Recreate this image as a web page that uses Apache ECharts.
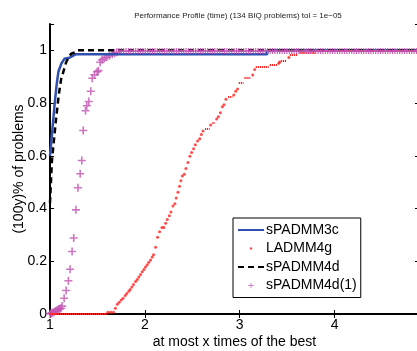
<!DOCTYPE html>
<html>
<head>
<meta charset="utf-8">
<script src="https://cdn.jsdelivr.net/npm/echarts@6/dist/echarts.min.js"></script>
<style>
  html, body { margin: 0; padding: 0; background: #fff; }
  #chart { width: 417px; height: 351px; }
</style>
</head>
<body>
<div id="chart"></div>
<script>
// ---- data ----
const titleText = "Performance Profile (time) (134 BIQ problems) tol = 1e\u221205";
const seriesNames = ["sPADMM3c", "LADMM4g", "sPADMM4d", "sPADMM4d(1)"];
const xTicks = [1, 2, 3, 4];
const yTicks = [0, 0.2, 0.4, 0.6, 0.8, 1];

// sPADMM3c (solid blue)
const spadmm3c = [
  [1.0, 0.60], [1.01, 0.64], [1.025, 0.70], [1.05, 0.80], [1.07, 0.87],
  [1.089, 0.92], [1.12, 0.95], [1.152, 0.968], [1.205, 0.972], [1.27, 0.985],
  [3.29, 0.985], [3.29, 1.0], [4.89, 1.0]
];

// sPADMM4d (black dashed)
const spadmm4d = [
  [1.0, 0.42], [1.01, 0.50], [1.02, 0.58], [1.036, 0.64], [1.064, 0.74],
  [1.092, 0.83], [1.117, 0.89], [1.15, 0.93], [1.17, 0.955], [1.2, 0.975],
  [1.223, 0.987], [1.26, 0.992], [1.29, 1.0], [4.89, 1.0]
];

// LADMM4g (red dots)
const ladmm4g = [
  [1.61, 0.007], [1.64, 0.007], [1.67, 0.007], [1.69, 0.022], [1.71, 0.037],
  [1.73, 0.045], [1.751, 0.053], [1.77, 0.06], [1.793, 0.070], [1.81, 0.078],
  [1.831, 0.086], [1.845, 0.093], [1.863, 0.102], [1.88, 0.112], [1.902, 0.123],
  [1.92, 0.131], [1.937, 0.140], [1.955, 0.15], [1.972, 0.160], [1.99, 0.169],
  [2.007, 0.178], [2.025, 0.187], [2.042, 0.196], [2.06, 0.205], [2.078, 0.216],
  [2.092, 0.225], [2.113, 0.253], [2.134, 0.291], [2.155, 0.312], [2.18, 0.328],
  [2.2, 0.328], [2.219, 0.344], [2.236, 0.358], [2.258, 0.373], [2.275, 0.387],
  [2.296, 0.410], [2.317, 0.418], [2.33, 0.44], [2.349, 0.462], [2.366, 0.485],
  [2.38, 0.505], [2.395, 0.523], [2.416, 0.530], [2.433, 0.552], [2.454, 0.575],
  [2.475, 0.598], [2.493, 0.613], [2.514, 0.627], [2.532, 0.642], [2.556, 0.656],
  [2.578, 0.665], [2.595, 0.681], [2.613, 0.694], [2.694, 0.717], [2.757, 0.740],
  [2.775, 0.748], [2.796, 0.763], [2.817, 0.786], [2.834, 0.794], [2.855, 0.815],
  [2.937, 0.831], [2.958, 0.845], [2.977, 0.853], [3.137, 0.907], [3.158, 0.927],
  [3.412, 0.951], [3.42, 0.956], [3.518, 0.973]
];
// flat stretches of densely packed red dots: [from, to, level]
const ladmm4gRuns = [
  [1.0, 1.6, 0.0], [2.634, 2.683, 0.703], [2.712, 2.739, 0.725], [2.877, 2.923, 0.823],
  [2.99, 3.04, 0.876], [3.05, 3.116, 0.898], [3.169, 3.306, 0.936], [3.317, 3.402, 0.945],
  [3.433, 3.497, 0.96], [3.528, 3.613, 0.983], [3.63, 3.8, 0.99], [3.8, 4.89, 1.0]
];

// sPADMM4d(1) (magenta pluses)
const spadmm4d1 = [
  [1.0, 0.0], [1.01, 0.003], [1.02, 0.004], [1.03, 0.006], [1.045, 0.009],
  [1.06, 0.011], [1.075, 0.015], [1.09, 0.017], [1.105, 0.020], [1.115, 0.022],
  [1.128, 0.030], [1.149, 0.060], [1.17, 0.089], [1.194, 0.126], [1.212, 0.170],
  [1.233, 0.237], [1.250, 0.288], [1.273, 0.395], [1.295, 0.479], [1.318, 0.532],
  [1.335, 0.582], [1.35, 0.696], [1.374, 0.771], [1.388, 0.790], [1.409, 0.806],
  [1.43, 0.845], [1.445, 0.894], [1.469, 0.907], [1.497, 0.919], [1.511, 0.923],
  [1.529, 0.955], [1.55, 0.964], [1.574, 0.970], [1.599, 0.974], [1.627, 0.980],
  [1.656, 0.985], [1.68, 0.989], [1.704, 0.993]
];
const spadmm4d1Runs = [[1.72, 4.89, 1.0]];

// ---- styling ----
const FONT = "Liberation Sans";
const BLUE = "#3050b0";
const RED = "#ff2020";
const MAGENTA = "#c254b2";
const PLUS = "path://M3.2,0H4.8V3.2H8V4.8H4.8V8H3.2V4.8H0V3.2H3.2Z";
const PLUS_ICON = "path://M-2,-2M10,10M3.4,0H4.6V3.4H8V4.6H4.6V8H3.4V4.6H0V3.4H3.4Z";
const DOT_ICON = "path://M0,0M10,10M3.5,5a1.5,1.5,0,1,0,3,0a1.5,1.5,0,1,0,-3,0Z";

function runSegments(runs, lineStyle) {
  return runs.map(([x0, x1, y]) => [
    { coord: [x0, y], lineStyle },
    { coord: [x1, y] }
  ]);
}

const chart = echarts.init(document.getElementById("chart"));

const axisCommon = {
  type: "value",
  axisLine: { show: true, lineStyle: { color: "#000", width: 2 } },
  axisTick: { show: true, inside: true, length: 4, lineStyle: { color: "#000", width: 1 } },
  splitLine: { show: false },
  axisLabel: { fontFamily: FONT, fontSize: 14, color: "#000" }
};

chart.setOption({
  animation: false,
  backgroundColor: "#fff",
  title: {
    text: titleText,
    left: 233,
    top: 7,
    textAlign: "center",
    textStyle: { fontFamily: FONT, fontSize: 8, fontWeight: "normal", color: "#222" }
  },
  grid: { left: 50, top: 24, right: -2, bottom: 37, outerBoundsMode: "none" },
  legend: {
    orient: "vertical",
    left: 233,
    top: 218,
    backgroundColor: "#fff",
    borderColor: "#000",
    borderWidth: 1,
    borderRadius: 0,
    padding: [5, 4, 5, 4],
    itemGap: 4.5,
    itemWidth: 26,
    itemHeight: 8,
    textStyle: { fontFamily: FONT, fontSize: 14, color: "#000", padding: [0, 0, 0, -3] },
    data: [
      { name: seriesNames[0], itemStyle: { opacity: 0 } },
      { name: seriesNames[1], icon: DOT_ICON },
      { name: seriesNames[2], itemStyle: { opacity: 0 } },
      { name: seriesNames[3], icon: PLUS_ICON }
    ]
  },
  xAxis: [
    {
      ...axisCommon,
      position: "bottom",
      min: 1,
      max: 4.89,
      interval: 1,
      name: "at most x times of the best",
      nameLocation: "middle",
      nameGap: 21,
      nameMoveOverlap: false,
      nameTextStyle: { fontFamily: FONT, fontSize: 14, color: "#000" },
      axisLabel: {
        ...axisCommon.axisLabel,
        margin: 4,
        formatter: (v) => (xTicks.includes(v) ? String(v) : "")
      }
    },
    {
      ...axisCommon,
      position: "top",
      min: 1,
      max: 4.89,
      interval: 1,
      axisLabel: { show: false }
    }
  ],
  yAxis: [
    {
      ...axisCommon,
      position: "left",
      min: 0,
      max: 1.1,
      interval: 0.2,
      name: "(100y)% of problems",
      nameLocation: "middle",
      nameGap: 24,
      nameMoveOverlap: false,
      nameTextStyle: { fontFamily: FONT, fontSize: 14, color: "#000" },
      axisLabel: {
        ...axisCommon.axisLabel,
        margin: 3,
        formatter: (v) => {
          const t = yTicks.find((k) => Math.abs(k - v) < 1e-6);
          return t === undefined ? "" : String(t);
        }
      }
    },
    {
      ...axisCommon,
      position: "right",
      min: 0,
      max: 1.1,
      interval: 0.2,
      axisLine: { show: false },
      axisLabel: { show: false }
    }
  ],
  series: [
    {
      name: seriesNames[0],
      type: "line",
      data: spadmm3c,
      symbol: "none",
      color: BLUE,
      lineStyle: { color: BLUE, width: 2.5 }
    },
    {
      name: seriesNames[1],
      type: "scatter",
      data: ladmm4g,
      symbol: "circle",
      symbolSize: 3,
      itemStyle: { color: RED },
      markLine: {
        silent: true,
        symbol: "none",
        label: { show: false },
        data: runSegments(ladmm4gRuns, { color: RED, width: 2, type: [1.2, 0.8] })
      }
    },
    {
      name: seriesNames[2],
      type: "line",
      data: spadmm4d,
      symbol: "none",
      color: "#000",
      lineStyle: { color: "#000", width: 2.5, type: [6, 4] }
    },
    {
      name: seriesNames[3],
      type: "scatter",
      data: spadmm4d1,
      symbol: PLUS,
      symbolSize: 8,
      itemStyle: { color: MAGENTA },
      markLine: {
        silent: true,
        symbol: "none",
        label: { show: false },
        data: runSegments(spadmm4d1Runs, { color: MAGENTA, width: 6, type: [1.2, 1.2], opacity: 0.9 })
          .concat(runSegments(spadmm4d1Runs, { color: MAGENTA, width: 2, type: "solid", opacity: 0.8 }))
      }
    }
  ]
});
</script>
</body>
</html>
